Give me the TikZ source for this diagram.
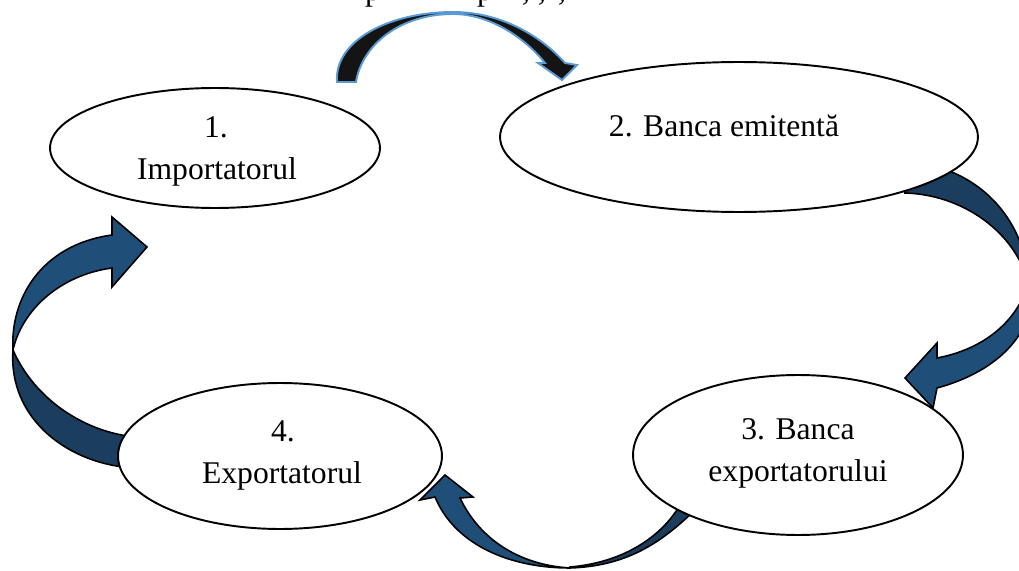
\documentclass[tikz,border=0pt]{standalone}
\usepackage{fontspec}
\setmainfont{Liberation Serif}
\usetikzlibrary{shapes.geometric}
\definecolor{frontblue}{HTML}{1F4E79}
\definecolor{backblue}{HTML}{1B3D5E}
\definecolor{arrowblack}{HTML}{141414}
\definecolor{edgeblue}{HTML}{5B9BD5}
\tikzset{
  oval/.style={ellipse, draw=black, fill=white, line width=1.1pt, inner sep=0pt, outer sep=0pt},
  lbl/.style={font=\fontsize{18pt}{23.8pt}\selectfont, inner sep=0pt, outer sep=0pt},
  frontarrow/.style={fill=frontblue, draw=black, line width=0.9pt, line join=miter},
  backarrow/.style={fill=backblue, draw=black, line width=0.9pt, line join=miter},
  blackarrow/.style={fill=arrowblack, draw=edgeblue, line width=1.1pt, line join=miter},
}
\begin{document}
\begin{tikzpicture}[x=0.02cm, y=-0.02cm]
\useasboundingbox (0,0) rectangle (1019,571);
\clip (0,0) rectangle (1019,571);

% cut-off text fragments at the top edge
\node[lbl, anchor=base west] (frag1) at (365,1) {p};
\node[lbl, anchor=base west] (frag2) at (477,1) {p};
\node[lbl, anchor=base] (frag3) at (526,1) {,};
\node[lbl, anchor=base] (frag4) at (542,1) {,};
\node[lbl, anchor=base] (frag5) at (562,1) {,};

% arrow 1 -> 2 (top, black)
\draw[blackarrow] (337,82) .. controls (334,40) and (390,12) .. (453,12)
  .. controls (503,12) and (543,38) .. (565,63) -- (577,65) -- (562,80) -- (538,63) -- (545,63)
  .. controls (525,38) and (490,14) .. (453,14)
  .. controls (400,14) and (362,45) .. (356,82) -- cycle;

% arrow 2 -> 3 (right)
\draw[backarrow] (905,163) .. controls (975,163) and (1028,220) .. (1028,285)
  .. controls (1020,240) and (970,195) .. (905,193) -- cycle;
\draw[frontarrow] (937,358) -- (937,343) -- (905,378) -- (933,408) -- (937,388)
  .. controls (985,375) and (1030,345) .. (1034,290) -- (1028,285)
  .. controls (1015,325) and (980,350) .. (937,358) -- cycle;

% arrow 3 -> 4 (bottom)
\draw[backarrow] (570,568) .. controls (630,566) and (665,540) .. (700,505) -- (685,495)
  .. controls (670,530) and (630,562) .. (570,567) -- cycle;
\draw[frontarrow] (460,498) -- (473,497) -- (445,475) -- (420,500) -- (435,497)
  .. controls (455,545) and (510,568) .. (570,568)
  .. controls (520,565) and (480,540) .. (460,498) -- cycle;

% arrow 4 -> 1 (left)
\draw[backarrow] (13,350) .. controls (8,420) and (70,465) .. (135,468) -- (135,437)
  .. controls (85,432) and (35,400) .. (13,350) -- cycle;
\draw[frontarrow] (112,235) -- (112,217) -- (147,247) -- (112,287) -- (112,268)
  .. controls (60,275) and (22,310) .. (13,350)
  .. controls (10,300) and (40,245) .. (112,235) -- cycle;

% ellipses
\node[oval, minimum width=6.6cm, minimum height=2.4cm] (imp) at (215,148) {};
\node[oval, minimum width=9.56cm, minimum height=3.0cm] (em) at (739,137) {};
\node[oval, minimum width=6.6cm, minimum height=3.2cm] (bexp) at (798,455) {};
\node[oval, minimum width=6.48cm, minimum height=2.92cm] (exp) at (280,456) {};

% texts
\node[lbl, anchor=base] (t1a) at (216,138) {1.};
\node[lbl, anchor=base] (t1b) at (217,180) {Importatorul};
\node[lbl, anchor=base] (t2) at (724,137) {2. Banca emitentă};
\node[lbl, anchor=base] (t3a) at (798,439) {3. Banca};
\node[lbl, anchor=base] (t3b) at (798,481) {exportatorului};
\node[lbl, anchor=base] (t4a) at (283,441) {4.};
\node[lbl, anchor=base] (t4b) at (282,483) {Exportatorul};
\end{tikzpicture}
\end{document}
